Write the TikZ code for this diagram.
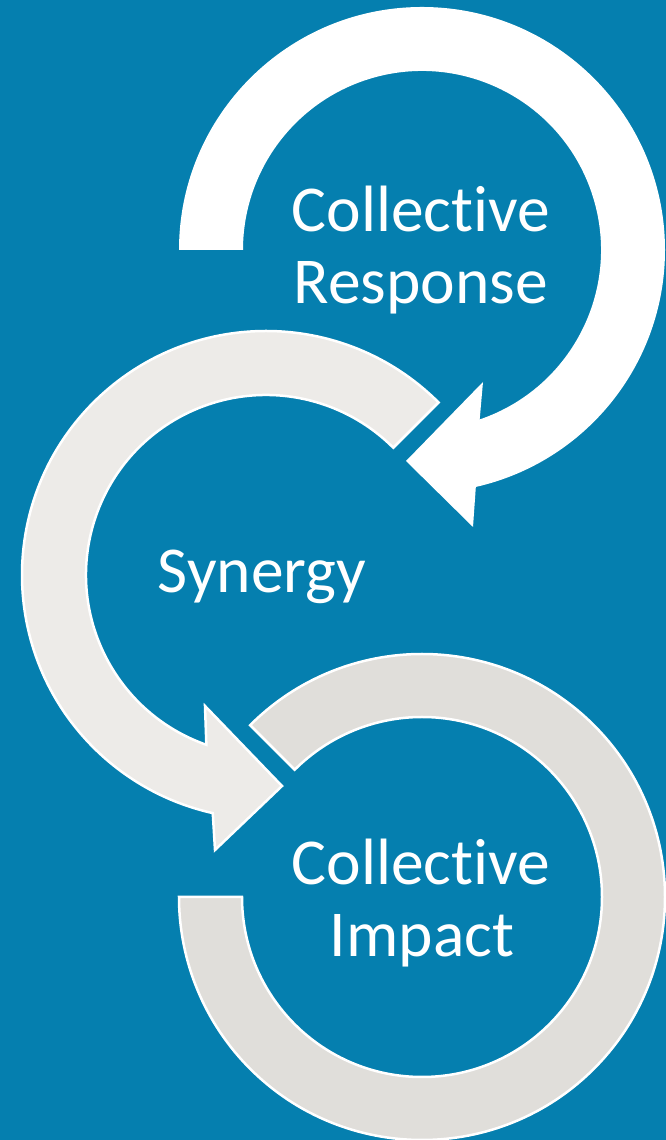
\documentclass[tikz,border=0pt]{standalone}
\usepackage{fontspec}
\setmainfont{Carlito}[Ligatures={NoCommon,NoRare,NoContextual}]
\usetikzlibrary{calc}
\definecolor{bgblue}{RGB}{5,127,175}
\definecolor{arrowlight}{RGB}{237,235,232}
\definecolor{arrowgray}{RGB}{224,222,218}
\tikzset{
  lbl/.style={text=white, inner sep=0pt, anchor=base, font=\fontsize{65.5}{72}\selectfont},
  outlined/.style={draw=white, line width=2.5pt, line join=miter},
}
\begin{document}
\begin{tikzpicture}[x=1pt,y=1pt]
\fill[bgblue] (0,0) rectangle (666,1140);
\useasboundingbox (0,0) rectangle (666,1140);
\coordinate (c1) at (422,890);
\coordinate (c2) at (266,565);
\coordinate (c3) at (422,243);
% arrow 3 (last, no head)
\path[fill=arrowgray, outlined]
  ($(c3)+(135:243)$) arc[start angle=135, end angle=-180, radius=243]
  -- ($(c3)+(180:180)$) arc[start angle=-180, end angle=135, radius=180] -- cycle;
% arrow 2
\coordinate (b2l) at (215,290);
\coordinate (t2) at (282,354);
\coordinate (b2u) at (205,434);
\path[fill=arrowlight, outlined]
  ($(c2)+(45:244)$) arc[start angle=45, end angle=257.4, radius=244]
  -- (b2l) -- (t2) -- (b2u)
  -- ($(c2)+(250.65:180)$) arc[start angle=250.65, end angle=45, radius=180] -- cycle;
% arrow 1
\coordinate (b1l) at (473,613);
\coordinate (t1) at (406,679);
\coordinate (b1u) at (483,758);
\fill[white]
  ($(c1)+(180:243)$) arc[start angle=180, end angle=-77.2, radius=243]
  -- (b1l) -- (t1) -- (b1u)
  -- ($(c1)+(-71.2:179)$) arc[start angle=-71.2, end angle=180, radius=179] -- cycle;
% labels
\node[lbl] (cr1) at (421,908) {Collect\kern0pt ive};
\node[lbl] (cr2) at (421,836) {Response};
\node[lbl] (syn) at (262,547) {Synergy};
\node[lbl] (ci1) at (421,255) {Collect\kern0pt ive};
\node[lbl] (ci2) at (422,183) {Impact};
\end{tikzpicture}
\end{document}
